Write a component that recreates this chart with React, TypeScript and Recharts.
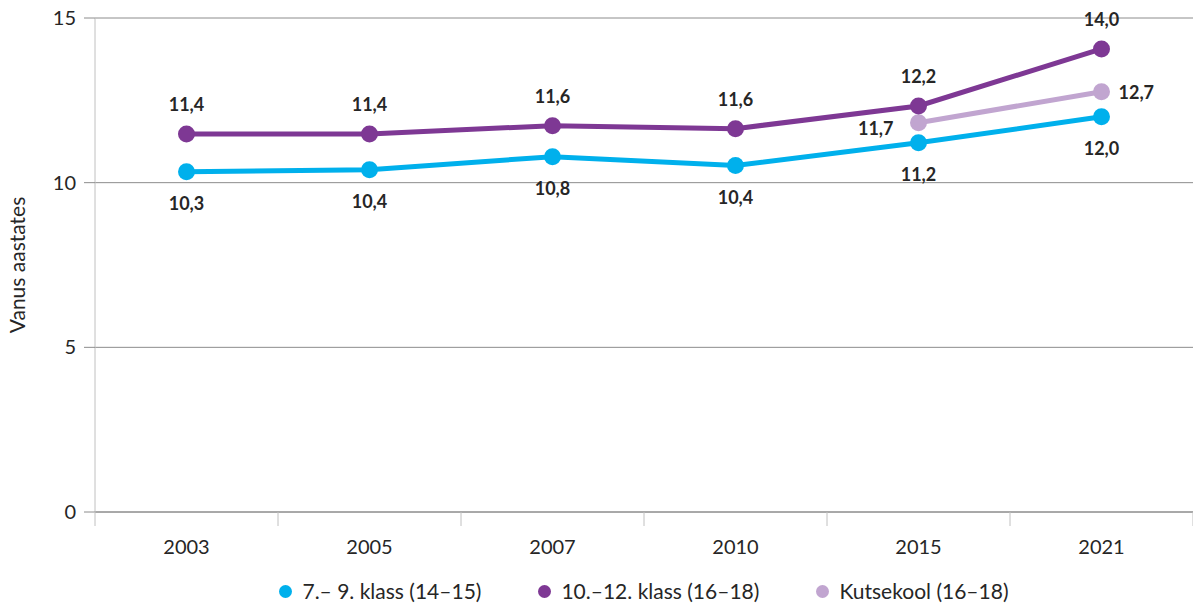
import React from "react";
import {
  CartesianGrid,
  LabelList,
  Legend,
  Line,
  LineChart,
  XAxis,
  YAxis,
} from "recharts";

const years = ["2003", "2005", "2007", "2010", "2015", "2021"];
const klass79 = [10.33, 10.39, 10.79, 10.52, 11.21, 12.0];
const klass1012 = [11.48, 11.48, 11.73, 11.64, 12.33, 14.06];
const kutsekool = [null, null, null, null, 11.82, 12.76];
const labels79 = ["10,3", "10,4", "10,8", "10,4", "11,2", "12,0"];
const labels1012 = ["11,4", "11,4", "11,6", "11,6", "12,2", "14,0"];
const labelsKutse = ["", "", "", "", "11,7", "12,7"];
const yTicks = [0, 5, 10, 15];

const series = [
  { key: "k79", name: "7.– 9. klass (14–15)", color: "#00B0EC" },
  { key: "k1012", name: "10.–12. klass (16–18)", color: "#7E3894" },
  { key: "kutse", name: "Kutsekool (16–18)", color: "#C1A5D0" },
];

const data = years.map((year, i) => ({
  year,
  k79: klass79[i],
  k1012: klass1012[i],
  kutse: kutsekool[i],
}));

const W = 1193;
const H = 607;
const TOP = 18;
const LEFT = 95;
const XAXIS_H = 41;
const LEGEND_H = 54;
const AXIS_Y = H - XAXIS_H - LEGEND_H;
const BAND = (W - LEFT) / years.length;
const FONT = "Lato, 'Open Sans', sans-serif";
const INK = "#262626";

function YearTick(props: any) {
  const { x, payload, index } = props;
  const left = x - BAND / 2;
  return (
    <g>
      <line x1={left} x2={left} y1={AXIS_Y} y2={AXIS_Y + 14} stroke="#C0C0C0" />
      {index === years.length - 1 && (
        <line x1={left + BAND} x2={left + BAND} y1={AXIS_Y} y2={AXIS_Y + 14} stroke="#C0C0C0" />
      )}
      <text x={x} y={AXIS_Y + 34} textAnchor="middle" dominantBaseline="central" fontSize={20} fill={INK}>
        {payload.value}
      </text>
    </g>
  );
}

const labelText = (x: number, y: number, text: string, anchor = "middle") => (
  <text x={x} y={y} textAnchor={anchor} dominantBaseline="central" fontSize={18} fontWeight={700} fill={INK}>
    {text}
  </text>
);

function LegendRow() {
  return (
    <div
      style={{
        display: "flex",
        justifyContent: "center",
        gap: 57,
        paddingTop: 27,
        paddingLeft: LEFT,
        fontSize: 21,
        lineHeight: "22px",
        color: INK,
        fontFamily: FONT,
      }}
    >
      {series.map((s) => (
        <div key={s.key} style={{ display: "flex", alignItems: "center", gap: 10 }}>
          <span style={{ width: 13, height: 13, borderRadius: 7, background: s.color, display: "inline-block" }} />
          <span>{s.name}</span>
        </div>
      ))}
    </div>
  );
}

export default function App() {
  return (
    <div style={{ position: "absolute", left: 0, top: 0, width: W, height: H, background: "#fff" }}>
      <LineChart width={W} height={H} data={data} margin={{ top: TOP, right: 0, bottom: 0, left: 0 }} style={{ fontFamily: FONT }}>
        <CartesianGrid vertical={false} stroke="#8C8C8C" />
        <XAxis
          dataKey="year"
          height={XAXIS_H}
          padding={{ left: BAND / 2, right: BAND / 2 }}
          axisLine={{ stroke: "#8C8C8C" }}
          tickLine={false}
          tick={<YearTick />}
          interval={0}
        />
        <YAxis
          width={LEFT}
          domain={[0, 15]}
          ticks={yTicks}
          tickSize={11}
          tickMargin={8}
          axisLine={{ stroke: "#C0C0C0" }}
          tickLine={{ stroke: "#8C8C8C" }}
          tick={{ fontSize: 20, fill: INK }}
          label={{
            value: "Vanus aastates",
            angle: -90,
            position: "insideLeft",
            offset: 18,
            style: { textAnchor: "middle", fontSize: 21, fill: INK },
          }}
        />
        <Legend verticalAlign="bottom" height={LEGEND_H} content={() => <LegendRow />} />
        <Line
          dataKey="kutse"
          name={series[2].name}
          stroke={series[2].color}
          strokeWidth={5}
          dot={{ r: 8.5, fill: series[2].color, stroke: "none" }}
          activeDot={false}
          isAnimationActive={false}
        >
          <LabelList
            dataKey="kutse"
            content={(p: any) =>
              labelsKutse[p.index]
                ? p.index === 4
                  ? labelText(p.x - 25, p.y + 5, labelsKutse[p.index], "end")
                  : labelText(p.x + 17, p.y, labelsKutse[p.index], "start")
                : null
            }
          />
        </Line>
        <Line
          dataKey="k79"
          name={series[0].name}
          stroke={series[0].color}
          strokeWidth={5}
          dot={{ r: 8.5, fill: series[0].color, stroke: "none" }}
          activeDot={false}
          isAnimationActive={false}
        >
          <LabelList dataKey="k79" content={(p: any) => labelText(p.x, p.y + 31, labels79[p.index])} />
        </Line>
        <Line
          dataKey="k1012"
          name={series[1].name}
          stroke={series[1].color}
          strokeWidth={5}
          dot={{ r: 8.5, fill: series[1].color, stroke: "none" }}
          activeDot={false}
          isAnimationActive={false}
        >
          <LabelList dataKey="k1012" content={(p: any) => labelText(p.x, p.y - 30, labels1012[p.index])} />
        </Line>
      </LineChart>
    </div>
  );
}
